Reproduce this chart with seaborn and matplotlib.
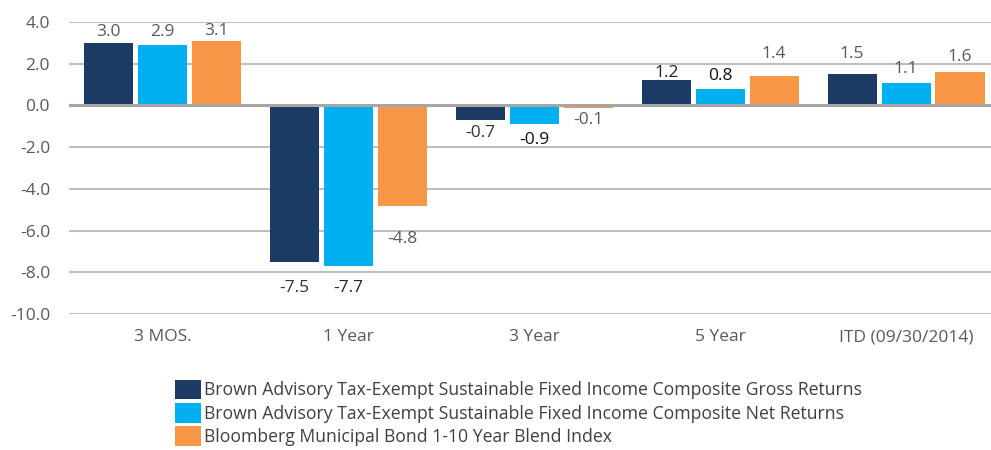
import matplotlib
matplotlib.use('Agg')

import pandas as pd
import matplotlib.pyplot as plt
import seaborn as sns

# --- data ---
periods = ['3 MOS.', '1 Year', '3 Year', '5 Year', 'ITD (09/30/2014)']
series_names = [
    'Brown Advisory Tax-Exempt Sustainable Fixed Income Composite Gross Returns',
    'Brown Advisory Tax-Exempt Sustainable Fixed Income Composite Net Returns',
    'Bloomberg Municipal Bond 1-10 Year Blend Index',
]
gross_returns = [3.0, -7.5, -0.7, 1.2, 1.5]
net_returns = [2.9, -7.7, -0.9, 0.8, 1.1]
index_returns = [3.1, -4.8, -0.1, 1.4, 1.6]
y_ticks = [4.0, 2.0, 0.0, -2.0, -4.0, -6.0, -8.0, -10.0]

colors = ['#1B3A64', '#00B0F0', '#F79646']

# label offsets (pixels from bar end) and colours, per series then per period
label_offsets = [
    [11, -26, -13, 7, 20],
    [13, -22, -16, 13, 14],
    [10, -33, -12, 22, 15],
]
label_colors = [
    ['#595959', '#333333', '#333333', '#222222', '#595959'],
    ['#595959', '#222222', '#111111', '#111111', '#595959'],
    ['#595959', '#595959', '#595959', '#595959', '#595959'],
]

df = pd.DataFrame({
    'period': periods * 3,
    'series': [series_names[0]] * 5 + [series_names[1]] * 5 + [series_names[2]] * 5,
    'value': gross_returns + net_returns + index_returns,
})

sns.set_theme(style='white')
plt.rcParams['font.family'] = ['Open Sans', 'DejaVu Sans']

fig = plt.figure(figsize=(9.91, 4.5), dpi=100)
ax = fig.add_axes([0.0701, 0.302, 0.938, 0.649])

for y in y_ticks:
    ax.axhline(y, color='#BFBFBF', lw=1.5, zorder=0)
ax.axhline(0, color='#A6A6A6', lw=2.2, zorder=3)

sns.barplot(data=df, x='period', y='value', hue='series', hue_order=series_names,
            palette=colors, width=0.87, gap=0.09, linewidth=0, saturation=1,
            ax=ax, zorder=2)

for i, cont in enumerate(ax.containers):
    for j, bar in enumerate(cont):
        v = bar.get_height()
        ax.annotate(f'{v:.1f}', xy=(bar.get_x() + bar.get_width() / 2, v),
                    xytext=(0, label_offsets[i][j]), textcoords='offset pixels',
                    ha='center', va='center', fontsize=12.5, color=label_colors[i][j])

ax.set_ylim(-10, 4)
ax.set_xlim(-0.5, 4.5)
ax.set_yticks(y_ticks)
ax.set_yticklabels([f'{t:.1f}' for t in y_ticks], fontsize=12.5, color='#595959')
ax.tick_params(axis='x', labelsize=12.5, labelcolor='#595959', pad=11, length=0)
ax.tick_params(axis='y', length=0, pad=14)
ax.set_xlabel('')
ax.set_ylabel('')
for s in ax.spines.values():
    s.set_visible(False)

handles, labels = ax.get_legend_handles_labels()
ax.legend(handles, labels, loc='upper left', bbox_to_anchor=((168 - 69.5) / 929.5, -0.2),
          frameon=False, fontsize=12.7, labelcolor='#404040', handlelength=1.45, handleheight=1.35,
          handletextpad=0.2, labelspacing=0.2, borderaxespad=0)

fig.savefig('out.png', dpi=100)
